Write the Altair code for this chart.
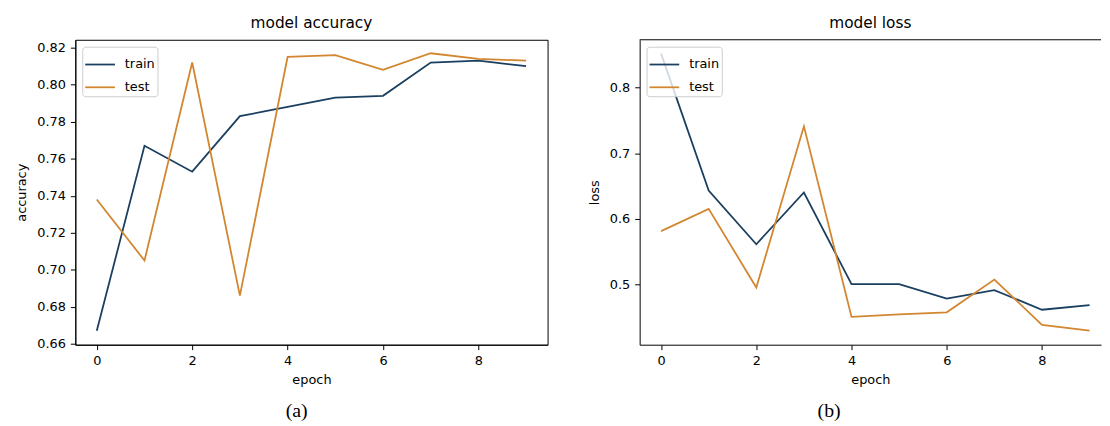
import altair as alt
import pandas as pd

epochs = list(range(10))
acc_train = [0.667, 0.767, 0.753, 0.783, 0.788, 0.793, 0.794, 0.812, 0.813, 0.810]
acc_test = [0.738, 0.705, 0.812, 0.686, 0.815, 0.816, 0.808, 0.817, 0.814, 0.813]
loss_train = [0.852, 0.643, 0.561, 0.640, 0.500, 0.500, 0.478, 0.491, 0.461, 0.468]
loss_test = [0.581, 0.615, 0.495, 0.741, 0.450, 0.454, 0.457, 0.507, 0.438, 0.429]
series = ["train", "test"]
colors = ["#1a3f60", "#d2862f"]
x_ticks = [0, 2, 4, 6, 8]
acc_ticks = [0.66, 0.68, 0.70, 0.72, 0.74, 0.76, 0.78, 0.80, 0.82]
loss_ticks = [0.5, 0.6, 0.7, 0.8]

FONT = "DejaVu Sans"
H = 308


def long(tr, te):
    return pd.DataFrame({
        "epoch": epochs * 2,
        "value": tr + te,
        "series": ["train"] * len(tr) + ["test"] * len(te),
    })


def lines(df, ytitle, ydomain, xdomain, yticks, yfmt):
    return alt.Chart(df).mark_line(strokeWidth=1.8, clip=True).encode(
        x=alt.X("epoch:Q",
                scale=alt.Scale(domain=xdomain, nice=False, zero=False),
                axis=alt.Axis(values=x_ticks, format="d", title="epoch",
                              labelPadding=5, titlePadding=6)),
        y=alt.Y("value:Q",
                scale=alt.Scale(domain=ydomain, nice=False, zero=False),
                axis=alt.Axis(values=yticks, format=yfmt, title=ytitle,
                              labelPadding=5, titlePadding=8)),
        color=alt.Color("series:N", sort=series,
                        scale=alt.Scale(domain=series, range=colors),
                        legend=alt.Legend(title=None, orient="top-left", offset=7)),
    )


left = lines(long(acc_train, acc_test), "accuracy", [0.6595, 0.8243],
             [-0.45, 9.45], acc_ticks, ".2f").properties(
    width=477, height=H, title="model accuracy",
    view=alt.ViewBackground(stroke="black", strokeWidth=1),
)

WR = 466
top_rule = alt.Chart(pd.DataFrame({"k": [0]})).mark_rule(
    color="black", strokeWidth=1).encode(
    x=alt.value(0), x2=alt.value(WR), y=alt.value(0))

right = alt.layer(
    lines(long(loss_train, loss_test), "loss", [0.4076, 0.8732],
          [-0.45, 9.24], loss_ticks, ".1f"),
    top_rule,
).properties(
    width=WR, height=H, title="model loss",
    view=alt.ViewBackground(stroke="transparent"),
)

cap_a = alt.vconcat(left, title=alt.TitleParams(
    "(a)", orient="bottom", anchor="middle", font="Liberation Serif",
    fontSize=20, offset=15, dx=15)).resolve_scale(color="independent")
cap_b = alt.vconcat(right, title=alt.TitleParams(
    "(b)", orient="bottom", anchor="middle", font="Liberation Serif",
    fontSize=20, offset=15, dx=-16)).resolve_scale(color="independent")

chart = alt.hconcat(cap_a, cap_b, spacing=39).resolve_scale(
    color="independent"
).configure(
    padding={"left": 7, "top": 5, "right": 0, "bottom": 0},
    background="white",
).configure_axis(
    grid=False,
    domainColor="black", domainWidth=1,
    tickColor="black", tickSize=5, tickWidth=1,
    labelColor="black", labelFont=FONT, labelFontSize=13,
    titleColor="black", titleFont=FONT, titleFontSize=13, titleFontWeight="normal",
).configure_title(
    font=FONT, fontSize=15.5, fontWeight="normal", color="black", offset=8,
).configure_legend(
    padding=2, fillColor="rgba(255,255,255,0.8)", strokeColor="#cccccc",
    cornerRadius=3,
    symbolType="stroke", symbolSize=900, symbolStrokeWidth=1.8,
    labelFont=FONT, labelFontSize=13, labelColor="black", labelOffset=9,
    rowPadding=0,
)

chart.save("out.html", embed_options={"renderer": "svg", "actions": False})
